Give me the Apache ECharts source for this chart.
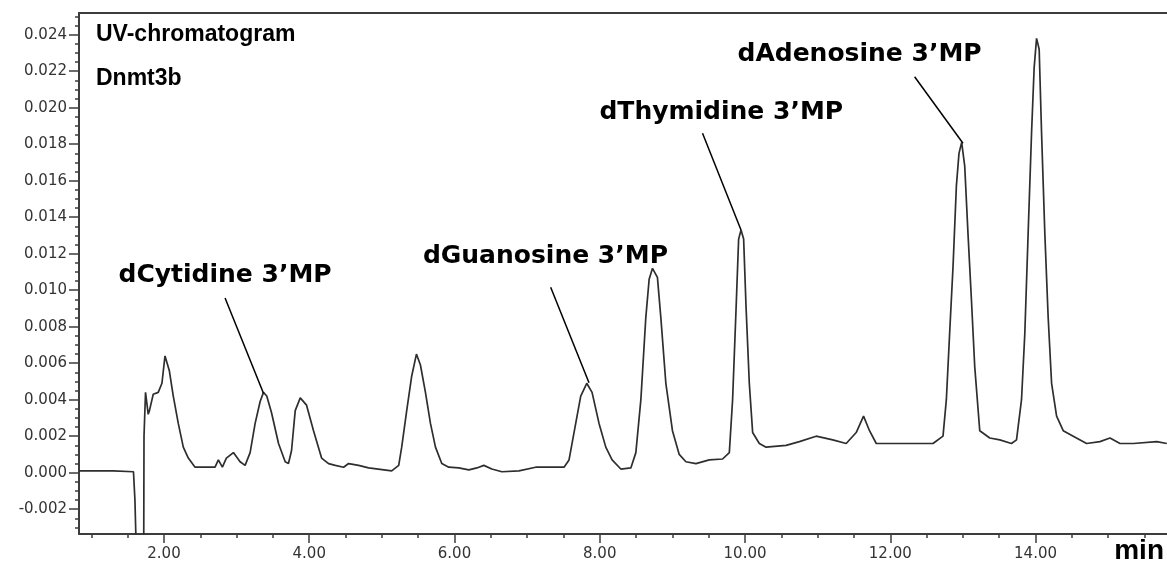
<!DOCTYPE html>
<html>
<head>
<meta charset="utf-8">
<script src="https://cdn.jsdelivr.net/npm/echarts@6/dist/echarts.min.js"></script>
<style>
  html, body { margin: 0; padding: 0; background: #fff; }
  #chart { width: 1167px; height: 569px; }
</style>
</head>
<body>
<div id="chart"></div>
<script>
// retention time (min)
const rt = [0.83, 1.10, 1.30, 1.58, 1.60, 1.63, 1.72, 1.725, 1.746, 1.783, 1.80, 1.852, 1.921, 1.972,
  2.014, 2.073, 2.128, 2.197, 2.266, 2.335, 2.428, 2.703, 2.749, 2.804, 2.859, 2.956, 3.048, 3.117,
  3.186, 3.255, 3.324, 3.370, 3.415, 3.480, 3.577, 3.669, 3.714, 3.756, 3.807, 3.876, 3.963, 4.059,
  4.170, 4.266, 4.359, 4.473, 4.542, 4.680, 4.818, 5.135, 5.232, 5.273, 5.342, 5.411, 5.476, 5.531,
  5.600, 5.669, 5.738, 5.825, 5.921, 6.059, 6.197, 6.308, 6.404, 6.514, 6.652, 6.887, 7.117, 7.301,
  7.508, 7.577, 7.669, 7.738, 7.821, 7.894, 7.990, 8.083, 8.170, 8.290, 8.428, 8.497, 8.566, 8.634,
  8.680, 8.726, 8.794, 8.841, 8.910, 9.001, 9.094, 9.186, 9.324, 9.508, 9.691, 9.784, 9.829, 9.876,
  9.912, 9.945, 9.981, 10.014, 10.059, 10.105, 10.197, 10.290, 10.566, 10.749, 10.979, 11.208, 11.393,
  11.531, 11.632, 11.714, 11.807, 12.128, 12.588, 12.726, 12.772, 12.818, 12.864, 12.910, 12.946,
  12.983, 13.025, 13.070, 13.117, 13.163, 13.232, 13.370, 13.508, 13.669, 13.738, 13.807, 13.852,
  13.898, 13.945, 13.981, 14.014, 14.050, 14.083, 14.128, 14.174, 14.221, 14.290, 14.381, 14.519,
  14.703, 14.887, 15.025, 15.163, 15.346, 15.669, 15.807];
// UV absorbance
const au = [0.0001, 0.0001, 0.0001, 0.00005, -0.0015, -0.006, -0.006, 0.0020, 0.0044, 0.0032, 0.0034, 0.0043, 0.0044, 0.0049,
  0.0064, 0.0056, 0.0042, 0.0027, 0.0014, 0.0008, 0.0003, 0.0003, 0.0007, 0.0003, 0.0008, 0.0011, 0.0006, 0.0004,
  0.0011, 0.0027, 0.0039, 0.0044, 0.0042, 0.0033, 0.0016, 0.0006, 0.0005, 0.0012, 0.0034, 0.0041, 0.0037, 0.0023,
  0.0008, 0.0005, 0.0004, 0.0003, 0.0005, 0.0004, 0.00026, 0.0001, 0.0004, 0.0014, 0.0034, 0.0053, 0.0065, 0.0059,
  0.0044, 0.0027, 0.0014, 0.0005, 0.0003, 0.00026, 0.00015, 0.00026, 0.0004, 0.0002, 0.00005, 0.0001, 0.0003, 0.0003,
  0.0003, 0.0007, 0.0027, 0.0042, 0.0049, 0.0044, 0.0027, 0.0014, 0.0007, 0.0002, 0.00026, 0.0011, 0.0040, 0.0085,
  0.0106, 0.0112, 0.0107, 0.0085, 0.0049, 0.0023, 0.0010, 0.0006, 0.0005, 0.0007, 0.00075, 0.0011, 0.0040, 0.0089,
  0.0128, 0.0133, 0.0128, 0.0091, 0.0049, 0.0022, 0.0016, 0.0014, 0.0015, 0.0017, 0.0020, 0.0018, 0.0016,
  0.0022, 0.0031, 0.0023, 0.0016, 0.0016, 0.0016, 0.0020, 0.0040, 0.0077, 0.0113, 0.0157, 0.0175,
  0.0181, 0.0168, 0.0131, 0.0095, 0.0058, 0.0023, 0.0019, 0.0018, 0.0016, 0.0018, 0.0040, 0.0076,
  0.0131, 0.0186, 0.0222, 0.0238, 0.0232, 0.0186, 0.0131, 0.0085, 0.0049, 0.0031, 0.0023, 0.0020,
  0.0016, 0.0017, 0.0019, 0.0016, 0.0016, 0.0017, 0.0016];

// axis ticks
const xTicks = [2, 4, 6, 8, 10, 12, 14];
const xMinorTicks = [1, 1.5, 2.5, 3, 3.5, 4.5, 5, 5.5, 6.5, 7, 7.5, 8.5, 9, 9.5, 10.5, 11, 11.5, 12.5, 13, 13.5, 14.5, 15, 15.5];
const yTicks = [-0.002, 0, 0.002, 0.004, 0.006, 0.008, 0.010, 0.012, 0.014, 0.016, 0.018, 0.020, 0.022, 0.024];
const yMinorTicks = [-0.003, -0.0025, -0.0015, -0.001, -0.0005, 0.0005, 0.001, 0.0015, 0.0025, 0.003, 0.0035,
  0.0045, 0.005, 0.0055, 0.0065, 0.007, 0.0075, 0.0085, 0.009, 0.0095, 0.0105, 0.011, 0.0115, 0.0125, 0.013, 0.0135,
  0.0145, 0.015, 0.0155, 0.0165, 0.017, 0.0175, 0.0185, 0.019, 0.0195, 0.0205, 0.021, 0.0215, 0.0225, 0.023, 0.0235, 0.0245, 0.025];
const xMin = 0.83, xMax = 15.81;
const yMin = -0.00336, yMax = 0.02519;

// peak annotations: label centre and leader line (from label to peak)
const peakNames = ['dCytidine 3’MP', 'dGuanosine 3’MP', 'dThymidine 3’MP', 'dAdenosine 3’MP'];
const labelPos = [[2.841, 0.01078], [7.252, 0.01182], [9.673, 0.01976], [11.577, 0.02289]];
const leaderFrom = [[2.841, 0.00957], [7.324, 0.01016], [9.415, 0.0186], [12.335, 0.0217]];
const leaderTo = [[3.370, 0.00435], [7.852, 0.00493], [9.945, 0.0133], [13.001, 0.01805]];

const chart = echarts.init(document.getElementById('chart'));
const axisColor = '#3c3c3c';
const tickFont = { fontFamily: 'DejaVu Sans', fontSize: 15, color: '#333' };

const option = {
  backgroundColor: '#fff',
  animation: false,
  title: {
    text: 'UV-chromatogram\nDnmt3b',
    left: 96,
    top: 13,
    padding: 0,
    textStyle: { fontFamily: 'Liberation Sans', fontWeight: 'bold', fontSize: 23, lineHeight: 44, color: '#000' }
  },
  grid: { left: 79, right: 0, top: 13, bottom: 35, outerBoundsMode: 'none' },
  xAxis: [{
    type: 'value', min: xMin, max: xMax,
    splitLine: { show: false },
    axisLine: { onZero: false, lineStyle: { color: axisColor, width: 2 } },
    axisTick: { customValues: xTicks, length: 9, lineStyle: { color: axisColor, width: 1.5 } },
    axisLabel: Object.assign({ customValues: xTicks, margin: 13, formatter: v => v.toFixed(2) }, tickFont)
  }, {
    type: 'value', min: xMin, max: xMax, position: 'bottom',
    splitLine: { show: false },
    axisLine: { show: false, onZero: false },
    axisTick: { customValues: xMinorTicks, length: 4, lineStyle: { color: axisColor, width: 1.5 } },
    axisLabel: { show: false }
  }, {
    type: 'value', min: xMin, max: xMax, position: 'top',
    splitLine: { show: false },
    axisLine: { onZero: false, lineStyle: { color: axisColor, width: 2 } },
    axisTick: { show: false },
    axisLabel: { show: false }
  }],
  yAxis: [{
    type: 'value', min: yMin, max: yMax,
    splitLine: { show: false },
    axisLine: { show: true, onZero: false, lineStyle: { color: axisColor, width: 2 } },
    axisTick: { show: true, customValues: yTicks, length: 10, lineStyle: { color: axisColor, width: 1.5 } },
    axisLabel: Object.assign({ customValues: yTicks, margin: 12, formatter: v => v.toFixed(3) }, tickFont)
  }, {
    type: 'value', min: yMin, max: yMax, position: 'left',
    splitLine: { show: false },
    axisLine: { show: false, onZero: false },
    axisTick: { show: true, customValues: yMinorTicks, length: 4, lineStyle: { color: axisColor, width: 1.5 } },
    axisLabel: { show: false }
  }],
  graphic: [{
    type: 'text', right: 3, bottom: 4,
    style: { text: 'min', font: 'bold 28px "Liberation Sans"', fill: '#000' }
  }],
  series: [{
    type: 'line',
    data: rt.map((t, i) => [t, au[i]]),
    showSymbol: false,
    symbol: 'none',
    lineStyle: { color: '#2e2e2e', width: 1.7 },
    silent: true,
    markLine: {
      silent: true,
      symbol: 'none',
      label: { show: false },
      lineStyle: { color: '#000', width: 1.5, type: 'solid' },
      data: leaderFrom.map((p, i) => [{ coord: p }, { coord: leaderTo[i] }])
    }
  }, {
    type: 'scatter',
    symbolSize: 0,
    silent: true,
    itemStyle: { opacity: 1 },
    data: peakNames.map((n, i) => ({ name: n, value: labelPos[i] })),
    label: {
      show: true, position: 'inside', formatter: '{b}', opacity: 1,
      fontFamily: 'DejaVu Sans', fontWeight: 'bold', fontSize: 25, color: '#000'
    }
  }]
};
chart.setOption(option);
</script>
</body>
</html>
